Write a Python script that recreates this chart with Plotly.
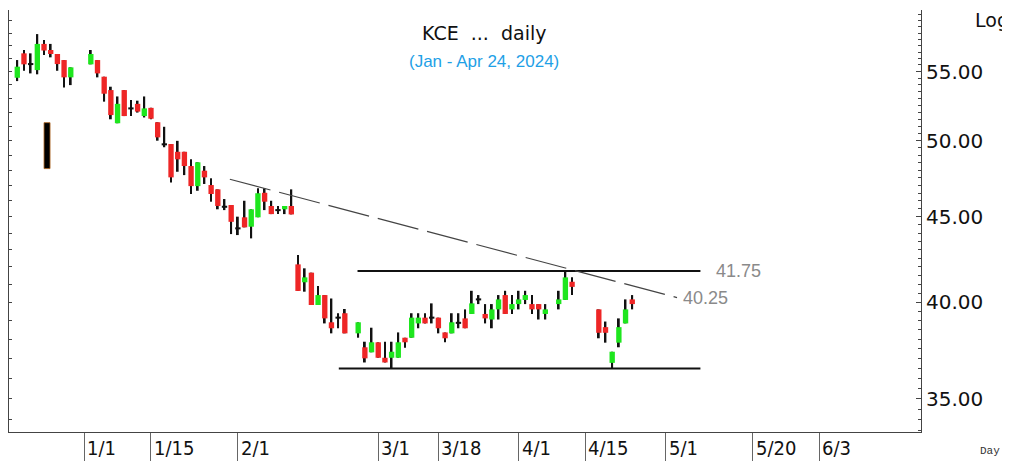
import numpy as np
import plotly.graph_objects as go

# ---------------- data ----------------
dates = [
    "2023-12-18", "2023-12-19", "2023-12-20", "2023-12-21", "2023-12-22",
    "2023-12-25", "2023-12-26", "2023-12-27", "2023-12-28",
    "2024-01-02", "2024-01-03", "2024-01-04", "2024-01-05",
    "2024-01-08", "2024-01-09", "2024-01-10", "2024-01-11", "2024-01-12",
    "2024-01-15", "2024-01-16", "2024-01-17", "2024-01-18", "2024-01-19",
    "2024-01-22", "2024-01-23", "2024-01-24", "2024-01-25", "2024-01-26",
    "2024-01-29", "2024-01-30", "2024-01-31", "2024-02-01", "2024-02-02",
    "2024-02-05", "2024-02-06", "2024-02-07", "2024-02-08", "2024-02-09",
    "2024-02-12", "2024-02-13", "2024-02-14", "2024-02-15", "2024-02-16",
    "2024-02-19", "2024-02-20", "2024-02-21", "2024-02-22", "2024-02-23",
    "2024-02-27", "2024-02-28", "2024-02-29", "2024-03-01",
    "2024-03-04", "2024-03-05", "2024-03-06", "2024-03-07", "2024-03-08",
    "2024-03-11", "2024-03-12", "2024-03-13", "2024-03-14", "2024-03-15",
    "2024-03-18", "2024-03-19", "2024-03-20", "2024-03-21", "2024-03-22",
    "2024-03-25", "2024-03-26", "2024-03-27", "2024-03-28", "2024-03-29",
    "2024-04-01", "2024-04-02", "2024-04-03", "2024-04-04", "2024-04-05",
    "2024-04-09", "2024-04-10", "2024-04-11",
    "2024-04-17", "2024-04-18", "2024-04-19",
    "2024-04-22", "2024-04-23", "2024-04-24",
]
opens = [
    54.53, 56.40, 55.57, 55.11, 57.14,
    56.66, 56.35, 55.88, 54.56,
    55.55, 55.88, 54.61, 53.61,
    51.21, 53.61, 52.27, 52.60, 51.72,
    52.31, 51.28, 49.74, 49.76, 49.23,
    49.23, 48.27, 46.95, 47.96, 47.02,
    46.74, 45.63, 45.74, 44.29, 44.97,
    44.39, 44.97, 46.52, 45.68, 45.42,
    45.47, 45.68, 42.14, 41.11, 41.66,
    39.84, 40.39, 38.90, 39.15, 39.39,
    38.31, 37.58, 37.32, 37.84,
    37.04, 37.04, 37.04, 38.08, 38.08,
    38.84, 39.15, 39.15, 39.15, 38.36,
    38.31, 38.87, 39.11, 39.35, 40.15,
    39.35, 39.05, 39.60, 40.39, 39.60,
    39.89, 40.12, 39.89, 39.89, 39.35,
    39.89, 40.12, 41.14,
    39.60, 38.64, 36.78,
    37.82, 38.84, 40.15,
]
highs = [
    55.88, 56.66, 56.40, 57.92, 57.45,
    57.14, 56.35, 55.88, 55.32,
    56.66, 55.88, 54.61, 53.86,
    53.14, 53.61, 52.88, 52.83, 53.14,
    52.31, 51.28, 50.96, 49.76, 49.98,
    49.23, 48.72, 48.52, 48.27, 47.46,
    46.74, 46.12, 45.74, 45.01, 46.01,
    45.47, 46.81, 46.81, 46.01, 45.68,
    45.68, 46.74, 42.69, 41.91, 41.66,
    40.90, 40.39, 40.20, 39.39, 39.62,
    38.90, 37.87, 38.61, 37.84,
    37.87, 37.87, 38.36, 38.08, 39.39,
    39.39, 39.39, 39.93, 39.15, 38.36,
    39.39, 39.39, 39.60, 40.63, 40.39,
    39.89, 39.89, 40.39, 40.63, 40.39,
    40.63, 40.63, 40.39, 39.89, 39.89,
    40.63, 41.75, 41.39,
    39.60, 38.94, 37.35,
    39.11, 40.15, 40.39,
]
lows = [
    54.28, 55.06, 54.86, 54.79, 56.28,
    56.09, 55.06, 53.81, 53.98,
    55.55, 54.56, 52.76, 51.49,
    51.21, 51.72, 51.72, 51.97, 51.62,
    51.49, 49.99, 49.54, 47.19, 47.89,
    47.67, 46.44, 46.65, 47.09, 45.95,
    45.47, 45.42, 43.94, 43.88, 44.35,
    43.68, 44.97, 45.42, 45.17, 45.17,
    45.17, 45.15, 40.62, 40.58, 39.84,
    39.84, 38.84, 38.31, 38.58, 38.31,
    38.08, 36.80, 37.32, 37.04,
    36.80, 36.50, 37.04, 37.56, 38.08,
    38.58, 38.84, 38.84, 38.31, 37.84,
    38.31, 38.58, 38.58, 39.35, 39.89,
    38.84, 38.58, 39.05, 39.35, 39.35,
    39.60, 39.89, 39.35, 39.05, 39.05,
    39.60, 40.12, 40.39,
    38.05, 37.82, 36.50,
    37.58, 38.84, 39.60,
]
closes = [
    55.37, 55.55, 55.57, 57.14, 56.62,
    56.35, 55.57, 54.56, 55.32,
    56.35, 54.86, 53.34, 51.79,
    52.60, 51.72, 52.27, 52.04, 52.27,
    51.53, 50.22, 49.74, 47.52, 48.72,
    48.27, 46.95, 48.52, 47.52, 46.44,
    45.68, 45.63, 44.69, 44.29, 44.35,
    45.47, 46.49, 45.95, 45.17, 45.42,
    45.68, 45.15, 40.62, 41.39, 39.84,
    40.39, 39.11, 38.58, 39.15, 38.31,
    38.90, 37.01, 37.84, 37.04,
    36.80, 37.35, 37.84, 37.84, 39.15,
    39.15, 38.84, 39.15, 38.58, 38.05,
    38.90, 38.87, 38.58, 39.93, 40.15,
    39.11, 39.60, 40.15, 39.35, 39.89,
    40.15, 40.39, 39.60, 39.60, 39.60,
    40.15, 41.39, 40.85,
    38.34, 38.34, 37.35,
    38.64, 39.60, 39.89,
]

# date-axis labels (separator position, label as printed)
tick_dates = ["2024-01-01", "2024-01-15", "2024-02-01", "2024-03-01", "2024-03-14",
              "2024-04-01", "2024-04-15", "2024-05-01", "2024-05-20", "2024-06-03"]
tick_labels = ["1/1", "1/15", "2/1", "3/1", "3/18", "4/1", "4/15", "5/1", "5/20", "6/3"]

price_ticks = [35, 40, 45, 50, 55]
price_labels = ["35.00", "40.00", "45.00", "50.00", "55.00"]

# drawn studies (x in trading-day slots, y in price)
resist_x = [50.9, 102.2]
resist_y = [41.75, 41.75]
support_x = [48.1, 102.2]
support_y = [36.5, 36.5]
trend_x = [31.8, 98.7]
trend_y = [47.4, 40.25]
level_labels = ["41.75", "40.25"]
level_label_x = [104.2, 99.3]
level_label_y = [41.75, 40.25]
scale_bar_x = [4.45]
scale_bar_low = [48.1]
scale_bar_high = [51.25]

# ---------------- geometry helpers ----------------
origin = np.datetime64("2023-12-18")
x = np.busday_count(origin, np.array(dates, dtype="datetime64[D]"))
tx = np.busday_count(origin, np.array(tick_dates, dtype="datetime64[D]"))

o = np.array(opens); h = np.array(highs); l = np.array(lows); c = np.array(closes)
up = c > o + 1e-9
dn = c < o - 1e-9
dj = ~(up | dn)

GREEN = "#1EE61E"
RED = "#EE2626"

fig = go.Figure()
# wicks
fig.add_trace(go.Bar(x=x, y=h - l, base=l, width=0.27, marker=dict(color="#111111", line=dict(width=0)),
                     hoverinfo="skip"))
# up bodies
fig.add_trace(go.Bar(x=x[up], y=(c - o)[up], base=o[up], width=0.8,
                     marker=dict(color=GREEN, line=dict(width=0)), hoverinfo="skip"))
# down bodies
fig.add_trace(go.Bar(x=x[dn], y=(o - c)[dn], base=c[dn], width=0.8,
                     marker=dict(color=RED, line=dict(width=0)), hoverinfo="skip"))
# doji bars (thin black body)
fig.add_trace(go.Bar(x=x[dj], y=c[dj] * 0.0028, base=c[dj] * 0.9986, width=0.8,
                     marker=dict(color="#111111", line=dict(width=0)), hoverinfo="skip"))
# scale bar
fig.add_trace(go.Bar(x=scale_bar_x, y=np.array(scale_bar_high) - np.array(scale_bar_low),
                     base=scale_bar_low, width=0.9,
                     marker=dict(color="#000000", line=dict(width=0.8, color="#B0651E")), hoverinfo="skip"))

# level lines
fig.add_trace(go.Scatter(x=resist_x, y=resist_y, mode="lines", line=dict(color="#111111", width=2),
                         hoverinfo="skip"))
fig.add_trace(go.Scatter(x=support_x, y=support_y, mode="lines", line=dict(color="#111111", width=2),
                         hoverinfo="skip"))
fig.add_trace(go.Scatter(x=trend_x, y=trend_y, mode="lines",
                         line=dict(color="#444444", width=1.2, dash="42px,9px"), hoverinfo="skip"))

ymin, ymax = 33.43, 59.88

# the page body has an 8px margin, so the figure is sized/margined to land on the
# reference pixel grid inside the 1010x461 window
fig.update_layout(
    width=1002, height=453,
    margin=dict(l=1, r=89, t=2, b=29, autoexpand=False),
    paper_bgcolor="white", plot_bgcolor="white",
    showlegend=False, barmode="overlay",
    xaxis=dict(range=[-1.24, 135.2], showgrid=False, zeroline=False, automargin=False,
               showline=True, linecolor="#444444", linewidth=1,
               tickmode="array", tickvals=tx, ticktext=[""] * len(tx),
               ticks="outside", ticklen=30, tickcolor="#666666", tickwidth=1,
               showticklabels=False),
    yaxis=dict(type="log", range=[np.log10(ymin), np.log10(ymax)], side="right", automargin=False,
               showgrid=False, zeroline=False, showline=True, linecolor="#444444", linewidth=1,
               tickmode="array", tickvals=price_ticks, ticktext=price_labels,
               ticks="inside", ticklen=5, tickcolor="#444444",
               tickfont=dict(family="DejaVu Sans", size=20, color="#111111"),
               minor=dict(tickmode="array", tickvals=list(np.arange(33.5, 60.0, 0.5)),
                          ticks="inside", ticklen=3, tickcolor="#444444"),
               ),
    yaxis2=dict(type="log", range=[np.log10(ymin), np.log10(ymax)], side="left", overlaying="y",
                automargin=False,
                showgrid=False, zeroline=False, showline=True, linecolor="#444444", linewidth=1,
                tickmode="array", tickvals=list(np.arange(34, 60, 1.0)),
                ticks="inside", ticklen=3, tickcolor="#444444", showticklabels=False),
)
# dummy trace to activate left axis
fig.add_trace(go.Scatter(x=[None], y=[None], yaxis="y2", hoverinfo="skip"))

NB = "\u00a0"
ann = []
for pos, lab in zip(tx, tick_labels):
    ann.append(dict(x=pos, y=0, xref="x", yref="paper", text=lab, showarrow=False,
                    xanchor="left", yanchor="middle", xshift=1, yshift=-16,
                    font=dict(family="DejaVu Sans Condensed, Liberation Sans Narrow, sans-serif",
                              size=20, color="#111111")))
for lab, lx, ly in zip(level_labels, level_label_x, level_label_y):
    ann.append(dict(x=lx, y=np.log10(ly), xref="x", yref="y", text=lab, showarrow=False,
                    xanchor="left", yanchor="middle",
                    font=dict(family="Liberation Sans, Arial, sans-serif", size=18, color="#8A8A8A")))
ann.append(dict(x=0.521, y=1, xref="paper", yref="paper", text="KCE" + NB * 2 + "..." + NB * 2 + "daily",
                showarrow=False, xanchor="center", yanchor="middle", yshift=-23,
                font=dict(family="DejaVu Sans, sans-serif", size=19, color="#111111")))
ann.append(dict(x=0.521, y=1, xref="paper", yref="paper", text="(Jan - Apr 24, 2024)", showarrow=False,
                xanchor="center", yanchor="middle", yshift=-51,
                font=dict(family="Liberation Sans, Arial, sans-serif", size=17, color="#1EA0E6")))
ann.append(dict(x=1, y=1, xref="paper", yref="paper", text="Log", showarrow=False,
                xanchor="left", yanchor="middle", xshift=52, yshift=-10,
                font=dict(family="DejaVu Sans, sans-serif", size=19, color="#111111")))
ann.append(dict(x=1, y=0, xref="paper", yref="paper", text="Day", showarrow=False,
                xanchor="left", yanchor="middle", xshift=57, yshift=-19,
                font=dict(family="Liberation Mono, Courier New, monospace", size=11, color="#333333")))
fig.update_layout(annotations=ann)

fig.write_html("out.html")
